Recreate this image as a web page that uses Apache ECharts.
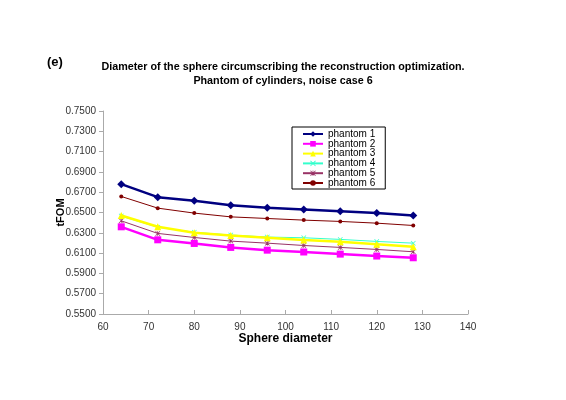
<!DOCTYPE html>
<html>
<head>
<meta charset="utf-8">
<script src="https://cdn.jsdelivr.net/npm/echarts@6/dist/echarts.min.js"></script>
<style>
html,body{margin:0;padding:0;background:#fff;}
#c{width:566px;height:400px;}
</style>
</head>
<body>
<div id="c"></div>
<script>
var diameters = [64, 72, 80, 88, 96, 104, 112, 120, 128];
var phantom1 = [0.6779, 0.6651, 0.6615, 0.6572, 0.6546, 0.6530, 0.6513, 0.6494, 0.6471];
var phantom2 = [0.6359, 0.6231, 0.6195, 0.6156, 0.6129, 0.6111, 0.6090, 0.6071, 0.6054];
var phantom3 = [0.6471, 0.6359, 0.6300, 0.6274, 0.6251, 0.6228, 0.6211, 0.6186, 0.6162];
var phantom4 = [0.6465, 0.6355, 0.6305, 0.6278, 0.6258, 0.6251, 0.6235, 0.6215, 0.6198];
var phantom5 = [0.6418, 0.6294, 0.6254, 0.6218, 0.6198, 0.6175, 0.6156, 0.6136, 0.6113];
var phantom6 = [0.6658, 0.6543, 0.6494, 0.6457, 0.6441, 0.6425, 0.6412, 0.6395, 0.6372];
var seriesNames = ['phantom 1','phantom 2','phantom 3','phantom 4','phantom 5','phantom 6'];

var FONT = 'Liberation Sans, Arial, sans-serif';
var xPath = 'path://M0,1L1,0L5,4L9,0L10,1L6,5L10,9L9,10L5,6L1,10L0,9L4,5Z';
var starPath = 'path://M0,1L1,0L5,4L9,0L10,1L6,5L10,9L9,10L5,6L1,10L0,9L4,5Z M4.4,0L5.6,0L5.6,10L4.4,10Z';

function pairs(arr){ return diameters.map(function(d,i){ return [d, arr[i]]; }); }

var styles = [
  {data: phantom1, color:'#000080', width:2.5, symbol:'diamond', size:8},
  {data: phantom2, color:'#FF00FF', width:2.5, symbol:'rect', size:7},
  {data: phantom3, color:'#FFFF00', width:2.5, symbol:'triangle', size:7},
  {data: phantom4, color:'#33FFCC', width:1, symbol:xPath, size:5},
  {data: phantom5, color:'#993366', width:1, symbol:starPath, size:5},
  {data: phantom6, color:'#800000', width:1, symbol:'circle', size:4}
];

var series = styles.map(function(s, i){
  return {
    name: seriesNames[i], type:'line', data: pairs(s.data),
    symbol: s.symbol, symbolSize: s.size, showSymbol: true,
    lineStyle:{color:s.color, width:s.width},
    itemStyle:{color:s.color, borderWidth:0},
    z: 10 - i,
    animation:false
  };
});

var chart = echarts.init(document.getElementById('c'), null, {renderer:'canvas'});
chart.setOption({
  backgroundColor:'#fff',
  animation:false,
  title:[
    {text:'(e)', left:42, top:51, textStyle:{fontFamily:FONT, fontSize:13, fontWeight:'bold', color:'#000'}},
    {text:'Diameter of the sphere circumscribing the reconstruction optimization.\nPhantom of cylinders, noise case 6',
     left:278, top:55, textAlign:'center',
     textStyle:{fontFamily:FONT, fontSize:10.75, fontWeight:'bold', color:'#000', lineHeight:14}}
  ],
  legend:{
    orient:'vertical', left:292, top:127,
    data: seriesNames,
    backgroundColor:'#fff', borderColor:'#000', borderWidth:1, borderRadius:0,
    padding:[2,10,1,10],
    itemWidth:20, itemHeight:7, itemGap:-0.2,
    textStyle:{fontFamily:FONT, fontSize:10, color:'#000'}
  },
  grid:{left:103, right:98, top:111, bottom:86, containLabel:false},
  xAxis:{
    type:'value', min:60, max:140, interval:10,
    name:'Sphere diameter', nameLocation:'middle', nameGap:19, nameMoveOverlap:false,
    nameTextStyle:{fontFamily:FONT, fontSize:12, fontWeight:'bold', color:'#000'},
    axisLine:{show:true, lineStyle:{color:'#aaa', width:1}},
    axisTick:{show:true, inside:true, length:4, lineStyle:{color:'#aaa'}},
    axisLabel:{fontFamily:FONT, fontSize:10, color:'#333', margin:8},
    splitLine:{show:false}
  },
  yAxis:{
    type:'value', min:0.55, max:0.75, interval:0.02,
    name:'tFOM', nameLocation:'middle', nameGap:37, nameRotate:90, nameMoveOverlap:false,
    nameTextStyle:{fontFamily:FONT, fontSize:11, fontWeight:'bold', color:'#000'},
    axisLine:{show:true, lineStyle:{color:'#aaa', width:1}},
    axisTick:{show:true, inside:false, length:4, lineStyle:{color:'#aaa'}},
    axisLabel:{fontFamily:FONT, fontSize:10, color:'#333', margin:7,
      formatter:function(v){ return v.toFixed(4); }},
    splitLine:{show:false}
  },
  series: series
});
</script>
</body>
</html>
